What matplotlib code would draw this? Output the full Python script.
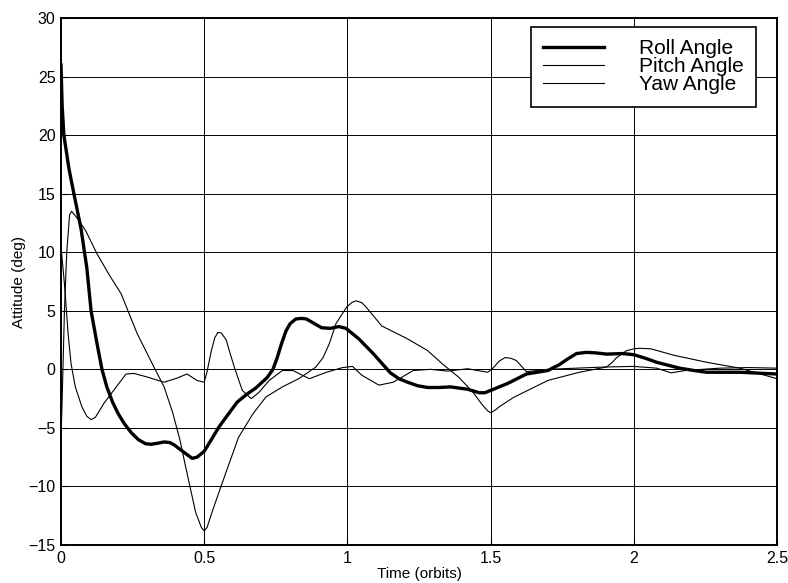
import matplotlib
matplotlib.use('Agg')
import matplotlib.pyplot as plt

plt.rcParams['font.family'] = ['Liberation Sans', 'DejaVu Sans']

# Roll angle (thick line)
roll_t = [0, 0.004, 0.01, 0.028, 0.045, 0.07, 0.082, 0.09, 0.105, 0.125, 0.143, 0.16, 0.18, 0.2,
          0.22, 0.245, 0.27, 0.295, 0.315, 0.34, 0.36, 0.38, 0.395, 0.43, 0.458, 0.475, 0.5, 0.525,
          0.552, 0.585, 0.615, 0.65, 0.68, 0.72, 0.74, 0.755, 0.77, 0.786, 0.80, 0.82, 0.84, 0.857,
          0.885, 0.91, 0.94, 0.97, 0.995, 1.015, 1.04, 1.09, 1.15, 1.18, 1.21, 1.245, 1.28, 1.32,
          1.36, 1.42, 1.46, 1.48, 1.50, 1.53, 1.56, 1.625, 1.70, 1.74, 1.77, 1.80, 1.835, 1.87,
          1.905, 1.96, 2.0, 2.04, 2.08, 2.16, 2.21, 2.255, 2.37, 2.5]
roll_deg = [26, 22.5, 20, 17.1, 15, 12, 10, 8.7, 5, 2.3, 0, -1.5, -2.8, -3.8,
            -4.6, -5.4, -6.0, -6.35, -6.4, -6.3, -6.2, -6.25, -6.45, -7.1, -7.6, -7.5, -7.0, -6.0,
            -4.9, -3.8, -2.8, -2.1, -1.6, -0.7, 0.0, 1.0, 2.2, 3.3, 3.9, 4.3, 4.35, 4.3,
            3.9, 3.55, 3.5, 3.65, 3.5, 3.1, 2.6, 1.35, -0.3, -0.8, -1.1, -1.4, -1.55, -1.55,
            -1.5, -1.7, -2.0, -2.0, -1.8, -1.5, -1.2, -0.4, -0.1, 0.4, 0.9, 1.35, 1.45, 1.4,
            1.3, 1.35, 1.25, 0.95, 0.6, 0.1, -0.1, -0.25, -0.25, -0.4]

# Pitch angle
pitch_t = [0, 0.004, 0.012, 0.02, 0.03, 0.037, 0.06, 0.087, 0.126, 0.17, 0.21, 0.266, 0.325,
           0.36, 0.39, 0.415, 0.435, 0.47, 0.49, 0.5, 0.51, 0.53, 0.576, 0.62, 0.67, 0.716,
           0.773, 0.83, 0.89, 0.915, 0.937, 0.96, 0.997, 1.015, 1.03, 1.05, 1.066, 1.12, 1.21,
           1.28, 1.33, 1.39, 1.44, 1.47, 1.49, 1.5, 1.515, 1.53, 1.58, 1.70, 1.81, 1.905, 1.925,
           1.94, 1.975, 2.0, 2.02, 2.06, 2.14, 2.255, 2.37, 2.5]
pitch_deg = [-6, -2.6, 5, 10, 13.2, 13.5, 12.8, 11.8, 9.85, 8, 6.45, 3.05, 0.17,
             -1.5, -3.7, -6.0, -8.3, -12.2, -13.5, -13.8, -13.5, -12, -8.8, -5.8, -3.8, -2.35,
             -1.5, -0.8, 0.2, 1.0, 2.2, 3.9, 5.3, 5.7, 5.85, 5.7, 5.3, 3.7, 2.6,
             1.6, 0.5, -0.7, -2.0, -3.0, -3.55, -3.7, -3.5, -3.2, -2.4, -0.95, -0.25, 0.2, 0.6,
             1.0, 1.6, 1.75, 1.8, 1.75, 1.2, 0.6, 0.1, -0.8]

# Yaw angle
yaw_t = [0, 0.012, 0.025, 0.035, 0.05, 0.073, 0.09, 0.105, 0.12, 0.15, 0.196, 0.227, 0.255, 0.30,
         0.36, 0.405, 0.44, 0.475, 0.5, 0.51, 0.525, 0.537, 0.548, 0.56, 0.577, 0.59, 0.605, 0.633,
         0.664, 0.69, 0.727, 0.773, 0.81, 0.867, 0.927, 0.983, 1.018, 1.05, 1.11, 1.16, 1.23,
         1.29, 1.35, 1.42, 1.49, 1.51, 1.53, 1.55, 1.57, 1.59, 1.625, 1.7, 1.8, 1.9, 2.0, 2.08,
         2.13, 2.18, 2.3, 2.4, 2.5]
yaw_deg = [10.5, 7.3, 3, 0.5, -1.5, -3.2, -4.0, -4.3, -4.1, -2.9, -1.4, -0.4, -0.35, -0.65,
           -1.1, -0.75, -0.4, -0.95, -1.1, -0.2, 1.6, 2.7, 3.15, 3.1, 2.5, 1.4, 0.2, -1.8,
           -2.5, -2.0, -0.95, -0.1, -0.1, -0.8, -0.25, 0.15, 0.25, -0.5, -1.35, -1.1, -0.1,
           0, -0.15, 0.05, -0.25, 0.15, 0.7, 1.0, 0.95, 0.75, -0.2, 0, 0.1, 0.2, 0.25, 0.1,
           -0.3, -0.1, 0.1, 0.15, 0.1]

x_ticks = [0, 0.5, 1, 1.5, 2, 2.5]
x_tick_labels = ['0', '0.5', '1', '1.5', '2', '2.5']
y_ticks = [-15, -10, -5, 0, 5, 10, 15, 20, 25, 30]

fig = plt.figure(figsize=(7.88, 5.83), dpi=100)
ax = fig.add_axes([61/788, 1 - 545/583, 716/788, 527/583])

ax.plot(roll_t, roll_deg, color='black', lw=2.4, label='Roll Angle', zorder=4)
ax.plot(pitch_t, pitch_deg, color='black', lw=0.8, label='Pitch Angle', zorder=3)
ax.plot(yaw_t, yaw_deg, color='black', lw=0.8, label='Yaw Angle', zorder=3)

ax.set_xlim(0, 2.5)
ax.set_ylim(-15, 30)
ax.set_xticks(x_ticks)
ax.set_xticklabels(x_tick_labels)
ax.set_yticks(y_ticks)
ax.grid(True, color='black', lw=0.7)
ax.tick_params(direction='in', length=4, labelsize=11.5, pad=4, color='black')
for s in ax.spines.values():
    s.set_linewidth(1.4)

ax.set_xlabel('Time (orbits)', fontsize=11, labelpad=1)
ax.set_ylabel('Attitude (deg)', fontsize=11, labelpad=2)

leg = ax.legend(loc='upper right', bbox_to_anchor=(0.971, 0.983), borderaxespad=0,
                fontsize=15, handlelength=2.9, handletextpad=1.7, labelspacing=-0.05,
                fancybox=False, framealpha=1, edgecolor='black', borderpad=0.6)
leg.get_frame().set_linewidth(1.2)

fig.savefig('out.png', dpi=100)
